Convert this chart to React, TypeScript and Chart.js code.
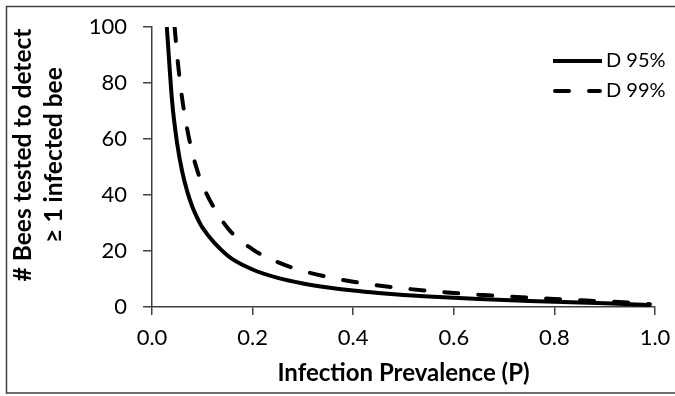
import React, { useEffect, useRef } from "react";
import { Chart, registerables } from "chart.js";

Chart.register(...registerables);

const prevalence95 = [0.0295, 0.04, 0.05, 0.06, 0.07, 0.08, 0.09, 0.1, 0.15, 0.2, 0.25, 0.3, 0.35, 0.4, 0.45, 0.5, 0.55, 0.6, 0.65, 0.7, 0.75, 0.8, 0.85, 0.9, 0.95, 0.99];
const bees95 = [100, 73.4, 58.4, 48.4, 41.3, 35.9, 31.8, 28.4, 18.4, 13.4, 10.4, 8.4, 6.95, 5.86, 5.01, 4.32, 3.75, 3.27, 2.85, 2.49, 2.16, 1.86, 1.58, 1.3, 1.0, 0.65];

const prevalence99 = [0.045, 0.05, 0.06, 0.07, 0.08, 0.09, 0.1, 0.15, 0.2, 0.25, 0.3, 0.35, 0.4, 0.45, 0.5, 0.55, 0.6, 0.65, 0.7, 0.75, 0.8, 0.85, 0.9, 0.95, 0.99];
const bees99 = [100, 89.8, 74.4, 63.5, 55.2, 48.8, 43.7, 28.3, 20.6, 16.0, 12.9, 10.7, 9.02, 7.7, 6.64, 5.77, 5.03, 4.39, 3.82, 3.32, 2.86, 2.43, 2.0, 1.54, 1.0];

const seriesNames = ["D 95%", "D 99%"];
const xTitle = "Infection Prevalence (P)";
const yTitleLines = ["# Bees tested to detect", "≥ 1 infected bee"];

const FONT = "Lato, 'Open Sans', sans-serif";

export default function App() {
  const canvasRef = useRef<HTMLCanvasElement | null>(null);

  useEffect(() => {
    const canvas = canvasRef.current;
    if (!canvas) return;

    const framePlugin = {
      id: "framePlugin",
      afterDraw(chart: any) {
        const ctx = chart.ctx;
        ctx.save();
        // outer frame
        ctx.strokeStyle = "#404040";
        ctx.lineWidth = 1.5;
        ctx.strokeRect(6.5, 6.5, 700, 386.5);
        // y title
        ctx.fillStyle = "#000";
        ctx.font = `bold 24.5px ${FONT}`;
        ctx.textAlign = "center";
        ctx.textBaseline = "middle";
        const cy = 155;
        const xs = [23, 54];
        yTitleLines.forEach((t, i) => {
          ctx.save();
          ctx.translate(xs[i], cy);
          ctx.rotate(-Math.PI / 2);
          ctx.fillText(t, 0, 0);
          ctx.restore();
        });
        // legend
        const ly = [61, 91];
        chart.data.datasets.forEach((ds: any, i: number) => {
          ctx.save();
          ctx.strokeStyle = ds.borderColor;
          ctx.lineWidth = ds.borderWidth;
          ctx.lineCap = ds.borderDash && ds.borderDash.length ? "round" : "butt";
          ctx.setLineDash(ds.borderDash || []);
          ctx.beginPath();
          const x0 = i === 1 ? 555 : 553;
          ctx.moveTo(x0, ly[i]);
          ctx.lineTo(i === 1 ? 600 : 602, ly[i]);
          ctx.stroke();
          ctx.restore();
          ctx.fillStyle = "#000";
          ctx.font = `20px ${FONT}`;
          ctx.textAlign = "left";
          ctx.textBaseline = "middle";
          ctx.fillText(ds.label, 606, ly[i]);
        });
        ctx.restore();
      },
    };

    const chart = new Chart(canvas, {
      type: "line",
      data: {
        datasets: [
          {
            label: seriesNames[0],
            data: prevalence95.map((p, i) => ({ x: p, y: bees95[i] })),
            borderColor: "#000",
            borderWidth: 4,
            pointRadius: 0,
            cubicInterpolationMode: "monotone",
            fill: false,
          },
          {
            label: seriesNames[1],
            data: prevalence99.map((p, i) => ({ x: p, y: bees99[i] })),
            borderColor: "#000",
            borderWidth: 4,
            borderDash: [14, 20],
            borderCapStyle: "round",
            pointRadius: 0,
            cubicInterpolationMode: "monotone",
            fill: false,
          },
        ],
      },
      options: {
        animation: false,
        responsive: true,
        maintainAspectRatio: false,
        layout: { padding: { left: 0, right: 20, top: 27, bottom: 0 } },
        plugins: {
          legend: { display: false },
          tooltip: { enabled: false },
        },
        scales: {
          x: {
            type: "linear",
            min: 0,
            max: 1,
            afterFit: (scale: any) => {
              scale.height = 89;
              scale.paddingLeft = 0;
              scale.paddingRight = 0;
            },
            ticks: {
              stepSize: 0.2,
              color: "#000",
              padding: 10,
              font: { family: FONT, size: 22 },
              callback: (v: any) => Number(v).toFixed(1),
              maxRotation: 0,
            },
            grid: {
              drawOnChartArea: false,
              drawTicks: true,
              tickLength: 8,
              color: "#404040",
              lineWidth: 1.5,
            },
            border: { color: "#404040", width: 1.5 },
            title: {
              display: true,
              text: xTitle,
              color: "#000",
              font: { family: FONT, size: 24, weight: "bold" },
              padding: { top: 0, bottom: 8 },
            },
          },
          y: {
            min: 0,
            max: 100,
            afterFit: (scale: any) => {
              scale.width = 152;
              scale.paddingTop = 0;
              scale.paddingBottom = 0;
            },
            ticks: {
              stepSize: 20,
              color: "#000",
              padding: 16,
              font: { family: FONT, size: 22 },
            },
            grid: {
              drawOnChartArea: false,
              drawTicks: true,
              tickLength: 9,
              color: "#404040",
              lineWidth: 1.5,
            },
            border: { color: "#404040", width: 1.5 },
          },
        },
      },
      plugins: [framePlugin],
    } as any);

    return () => chart.destroy();
  }, []);

  return (
    <div style={{ position: "absolute", left: 0, top: 0, width: 675, height: 396, background: "#fff" }}>
      <canvas ref={canvasRef} />
    </div>
  );
}
